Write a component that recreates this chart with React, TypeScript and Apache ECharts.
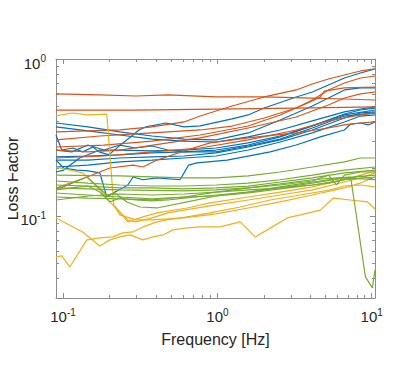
import React, { useEffect, useRef } from 'react';
import * as echarts from 'echarts';

type Pt = [number, number];

const BLUE = '#0072BD';
const ORANGE = '#D95319';
const YELLOW = '#EDB120';
const GREEN = '#77AC30';

// ---- tick values ----
const xMajor = [0.1, 1, 10];
const xMinor = [0.2, 0.3, 0.4, 0.5, 0.6, 0.7, 0.8, 0.9, 2, 3, 4, 5, 6, 7, 8, 9];
const yMajor = [0.1, 1];
const yMinor = [0.04, 0.05, 0.06, 0.07, 0.08, 0.09, 0.2, 0.3, 0.4, 0.5, 0.6, 0.7, 0.8, 0.9];

// ---- orange series ----
const orange1: Pt[] = [[0.09,0.599],[0.173,0.59],[0.296,0.581],[0.478,0.59],[0.981,0.573],[2.011,0.573],[4.12,0.564],[6.65,0.556],[10.5,0.548]];
const orange2: Pt[] = [[0.09,0.473],[0.296,0.473],[0.981,0.48],[3.24,0.487],[10.5,0.495]];
const orange3: Pt[] = [[0.09,0.343],[0.145,0.348],[0.233,0.353],[0.377,0.369],[0.608,0.397],[0.772,0.433],[1.246,0.502],[2.011,0.573],[3.24,0.635],[4.12,0.693],[5.24,0.746],[6.65,0.791],[8.45,0.839],[10.5,0.864]];
const orange4: Pt[] = [[0.09,0.305],[0.173,0.323],[0.296,0.333],[0.478,0.343],[0.772,0.353],[1.246,0.374],[2.011,0.421],[3.24,0.487],[4.12,0.548],[5.24,0.635],[6.65,0.703],[8.45,0.757],[10.5,0.779]];
const orange5: Pt[] = [[0.09,0.275],[0.184,0.283],[0.377,0.3],[0.772,0.328],[1.583,0.374],[2.55,0.44],[3.24,0.487],[4.12,0.54],[4.65,0.573],[4.93,0.625],[6.65,0.654],[10.5,0.663]];
const orange6: Pt[] = [[0.09,0.263],[0.145,0.256],[0.233,0.263],[0.478,0.292],[0.772,0.314],[1.583,0.3635],[3.24,0.427],[5.24,0.509],[6.65,0.564],[8.45,0.599],[10.5,0.616]];
const orange7: Pt[] = [[0.09,0.234],[0.184,0.241],[0.377,0.256],[0.772,0.271],[1.583,0.305],[3.24,0.353],[5.24,0.403],[8.45,0.44],[10.5,0.453]];
const orange8: Pt[] = [[0.09,0.149],[0.1,0.153],[0.143,0.177],[0.201,0.202],[0.284,0.211],[0.329,0.205],[0.406,0.227],[0.636,0.263],[0.897,0.292],[1.583,0.314],[3.24,0.338],[5.24,0.3635],[6.65,0.38],[8.45,0.391],[10.5,0.397]];

// ---- blue series ----
const blue1: Pt[] = [[0.09,0.328],[0.098,0.263],[0.116,0.271],[0.134,0.256],[0.156,0.275],[0.171,0.256],[0.198,0.245],[0.244,0.292],[0.284,0.328],[0.31,0.353],[0.344,0.369],[0.464,0.391],[0.608,0.369],[0.772,0.375],[1.246,0.415],[1.583,0.44],[2.011,0.487],[3.24,0.573],[4.12,0.616],[5.24,0.683],[6.65,0.757],[8.45,0.814],[10.5,0.864]];
const blue2: Pt[] = [[0.09,0.391],[0.145,0.369],[0.233,0.343],[0.377,0.323],[0.608,0.309],[0.981,0.305],[1.583,0.338],[2.55,0.409],[4.12,0.502],[5.91,0.599],[6.65,0.635],[8.45,0.654],[10.5,0.654]];
const blue3: Pt[] = [[0.09,0.369],[0.145,0.348],[0.233,0.328],[0.377,0.309],[0.608,0.3],[0.981,0.296],[1.583,0.319],[2.55,0.353],[4.12,0.403],[6.65,0.46],[8.45,0.48],[10.5,0.495]];
const blue4: Pt[] = [[0.09,0.238],[0.145,0.241],[0.233,0.245],[0.377,0.252],[0.608,0.256],[0.981,0.263],[1.583,0.283],[2.55,0.319],[4.12,0.375],[6.65,0.446],[8.45,0.473],[10.5,0.487]];
const blue5: Pt[] = [[0.09,0.227],[0.145,0.227],[0.233,0.234],[0.377,0.238],[0.608,0.241],[0.981,0.252],[1.583,0.275],[2.55,0.305],[4.12,0.353],[6.65,0.421],[8.45,0.453],[10.5,0.46]];
const blue6: Pt[] = [[0.09,0.205],[0.145,0.211],[0.233,0.221],[0.377,0.227],[0.608,0.234],[0.981,0.241],[1.583,0.263],[2.55,0.296],[4.12,0.338],[6.65,0.397],[8.45,0.433],[10.5,0.44]];
const blue7: Pt[] = [[0.09,0.227],[0.101,0.202],[0.123,0.196],[0.145,0.1935],[0.173,0.188],[0.192,0.132],[0.217,0.142],[0.263,0.1575],[0.284,0.177],[0.329,0.17],[0.406,0.1746],[0.573,0.17],[0.608,0.188],[0.651,0.211],[0.738,0.218],[1.156,0.227],[2.198,0.256],[3.24,0.283],[4.65,0.319],[6.65,0.353],[7.3,0.385],[8.45,0.391],[9.5,0.38],[10.5,0.397]];
const blue8: Pt[] = [[0.09,0.1906],[0.101,0.196],[0.128,0.234],[0.173,0.263],[0.233,0.263],[0.377,0.26],[0.608,0.263],[0.981,0.271],[1.583,0.292],[2.55,0.323],[4.12,0.375],[6.65,0.44],[10.5,0.473]];
const blue9: Pt[] = [[0.09,0.263],[0.114,0.256],[0.145,0.283],[0.184,0.263],[0.233,0.283],[0.296,0.271],[0.377,0.279],[0.478,0.263],[0.608,0.256],[0.981,0.256],[1.583,0.279],[2.55,0.309],[4.12,0.3635],[6.65,0.433],[10.5,0.453]];

// ---- green series ----
const green1: Pt[] = [[0.09,0.182],[0.233,0.1798],[0.608,0.1746],[0.981,0.1746],[1.583,0.1798],[2.55,0.1906],[4.12,0.205],[6.65,0.221],[8.45,0.234],[10.5,0.234]];
const green2: Pt[] = [[0.09,0.167],[0.145,0.162],[0.233,0.1575],[0.377,0.1552],[0.608,0.1552],[0.981,0.1575],[1.583,0.162],[2.55,0.17],[4.12,0.182],[6.65,0.196],[10.5,0.205]];
const green3: Pt[] = [[0.09,0.1575],[0.145,0.155],[0.233,0.1508],[0.377,0.1508],[0.608,0.1486],[0.981,0.1508],[1.583,0.155],[2.55,0.1646],[4.12,0.1746],[6.65,0.188],[10.5,0.196]];
const green4: Pt[] = [[0.09,0.1508],[0.233,0.1465],[0.608,0.1443],[0.981,0.1465],[1.583,0.1508],[2.55,0.1575],[4.12,0.167],[5.24,0.182],[5.91,0.1575],[6.65,0.182],[8.45,0.1906],[10.5,0.1906]];
const green5: Pt[] = [[0.09,0.1465],[0.114,0.1508],[0.145,0.1552],[0.173,0.142],[0.201,0.1228],[0.233,0.13],[0.296,0.1264],[0.377,0.1246],[0.478,0.1264],[0.608,0.13],[0.981,0.136],[1.583,0.142],[2.55,0.153],[4.12,0.1646],[6.65,0.1746],[10.5,0.182]];
const green6: Pt[] = [[0.09,0.14],[0.145,0.136],[0.233,0.132],[0.377,0.1283],[0.608,0.132],[0.981,0.134],[1.583,0.14],[2.55,0.1486],[4.12,0.1575],[6.65,0.17],[10.5,0.177]];
const green7: Pt[] = [[0.09,0.1508],[0.143,0.177],[0.192,0.136],[0.217,0.14],[0.259,0.1228],[0.315,0.114],[0.406,0.1124],[0.636,0.1228],[0.981,0.134],[1.583,0.142],[2.55,0.1508],[4.12,0.162],[6.65,0.1746],[10.5,0.17]];
const green8: Pt[] = [[0.09,0.132],[0.145,0.13],[0.233,0.1283],[0.377,0.1264],[0.608,0.132],[0.981,0.142],[1.583,0.1508],[2.55,0.16],[4.12,0.17],[5.91,0.1746],[7.3,0.177],[9.1,0.0409],[10.1,0.0348],[10.5,0.0453]];
const green9: Pt[] = [[0.09,0.1264],[0.145,0.134],[0.233,0.138],[0.377,0.136],[0.608,0.138],[0.981,0.142],[1.583,0.1465],[2.55,0.1508],[4.12,0.1575],[5.24,0.162],[6.65,0.17],[8.45,0.1798],[10.5,0.17]];

// ---- yellow series ----
const yellow1: Pt[] = [[0.09,0.434],[0.114,0.453],[0.145,0.44],[0.192,0.446],[0.213,0.1175],[0.263,0.0916],[0.329,0.0986],[0.406,0.1045],[0.636,0.1124],[0.897,0.121],[1.583,0.132],[2.55,0.142],[4.12,0.153],[6.65,0.17],[8.45,0.182],[10.5,0.193]];
const yellow2: Pt[] = [[0.09,0.205],[0.1105,0.196],[0.134,0.188],[0.149,0.17],[0.173,0.1465],[0.201,0.1228],[0.233,0.106],[0.263,0.0943],[0.296,0.0916],[0.377,0.0971],[0.478,0.1045],[0.608,0.109],[0.981,0.1175],[1.583,0.1264],[2.55,0.136],[4.12,0.1465],[6.65,0.1646],[8.45,0.1746],[10.5,0.188]];
const yellow3: Pt[] = [[0.09,0.0971],[0.134,0.0791],[0.173,0.0644],[0.201,0.0704],[0.233,0.0735],[0.271,0.0757],[0.329,0.0704],[0.382,0.0735],[0.444,0.0757],[0.516,0.0815],[0.636,0.0839],[0.772,0.0851],[1.041,0.0851],[1.403,0.0916],[1.758,0.0735],[2.102,0.0815],[2.836,0.0971],[3.444,0.1015],[4.645,0.109],[5.64,0.13],[7.27,0.1264],[9.38,0.1228],[10.5,0.1108]];
const yellow4: Pt[] = [[0.09,0.0548],[0.098,0.0556],[0.1105,0.0473],[0.1426,0.0704],[0.173,0.0724],[0.21,0.0735],[0.244,0.078],[0.284,0.0791],[0.329,0.0851],[0.406,0.0916],[0.4716,0.0943],[0.636,0.0986],[0.897,0.1045],[1.403,0.114],[2.198,0.1264],[3.444,0.136],[5.39,0.1465],[6.65,0.1552],[8.45,0.1575],[10.5,0.153]];
const yellow5: Pt[] = [[0.213,0.1175],[0.233,0.1015],[0.296,0.0943],[0.377,0.0943],[0.478,0.0957],[0.608,0.0971],[0.981,0.103],[1.583,0.1124],[2.55,0.1228],[4.12,0.136],[6.65,0.1508],[8.45,0.162],[10.5,0.177]];

const GROUPS: { color: string; lines: Pt[][] }[] = [
  { color: BLUE, lines: [blue1, blue2, blue3, blue4, blue5, blue6, blue7, blue8, blue9] },
  { color: ORANGE, lines: [orange1, orange2, orange3, orange4, orange5, orange6, orange7, orange8] },
  { color: YELLOW, lines: [yellow1, yellow2, yellow3, yellow4, yellow5] },
  { color: GREEN, lines: [green1, green2, green3, green4, green5, green6, green7, green8, green9] },
];

const AX = '#8c8c8c';
const TXT = '#262626';
const FONT = 'Liberation Sans, Arial, Helvetica, sans-serif';

const X_MIN = 0.09;
const X_MAX = 10.5;
const Y_MIN = 0.03;
const Y_MAX = 1;

const supFmt = (v: number) => `{a|10}{b|${Math.round(Math.log10(v))}}`;
const rich = {
  a: { fontSize: 15, color: TXT, fontFamily: FONT },
  b: { fontSize: 10, color: TXT, fontFamily: FONT, verticalAlign: 'bottom', padding: [0, 0, 9, 0] },
};

function xAxisDef(position: 'bottom' | 'top', major: boolean) {
  return {
    type: 'log',
    logBase: 10,
    min: X_MIN,
    max: X_MAX,
    position,
    gridIndex: 0,
    axisLine: { show: major, lineStyle: { color: AX, width: 1 } },
    axisTick: {
      show: true,
      inside: true,
      length: major ? 5 : 3,
      customValues: major ? xMajor : xMinor,
      lineStyle: { color: AX, width: 1 },
    },
    axisLabel: {
      show: major && position === 'bottom',
      customValues: xMajor,
      formatter: supFmt,
      rich,
      margin: 9,
    },
    splitLine: { show: false },
    minorTick: { show: false },
    ...(major && position === 'bottom'
      ? {
          name: 'Frequency [Hz]',
          nameLocation: 'middle',
          nameGap: 33,
          nameTextStyle: { fontSize: 16, color: TXT, fontFamily: FONT },
        }
      : {}),
  };
}

function yAxisDef(position: 'left' | 'right', major: boolean) {
  return {
    type: 'log',
    logBase: 10,
    min: Y_MIN,
    max: Y_MAX,
    position,
    gridIndex: 0,
    axisLine: { show: major, lineStyle: { color: AX, width: 1 } },
    axisTick: {
      show: true,
      inside: true,
      length: major ? 5 : 3,
      customValues: major ? yMajor : yMinor,
      lineStyle: { color: AX, width: 1 },
    },
    axisLabel: {
      show: major && position === 'left',
      customValues: yMajor,
      formatter: supFmt,
      rich,
      padding: [8, 0, 0, 0],
      margin: 10,
    },
    splitLine: { show: false },
    minorTick: { show: false },
    ...(major && position === 'left'
      ? {
          name: 'Loss Factor',
          nameLocation: 'middle',
          nameGap: 36,
          nameMoveOverlap: false,
          nameTextStyle: { fontSize: 16, color: TXT, fontFamily: FONT },
        }
      : {}),
  };
}

export default function App() {
  const ref = useRef<HTMLDivElement>(null);
  useEffect(() => {
    if (!ref.current) return;
    const chart = echarts.init(ref.current, undefined, { renderer: 'svg' });
    const series: any[] = [];
    GROUPS.forEach((g) => {
      g.lines.forEach((d) => {
        series.push({
          type: 'line',
          data: d,
          xAxisIndex: 0,
          yAxisIndex: 0,
          showSymbol: false,
          symbol: 'none',
          lineStyle: { color: g.color, width: 1.2 },
          itemStyle: { color: g.color },
          silent: true,
          clip: true,
        });
      });
    });
    chart.setOption({
      animation: false,
      backgroundColor: '#ffffff',
      grid: { left: 56, right: 40, top: 59, bottom: 73, containLabel: false, outerBoundsMode: 'none' },
      xAxis: [xAxisDef('bottom', true), xAxisDef('bottom', false), xAxisDef('top', true), xAxisDef('top', false)],
      yAxis: [yAxisDef('left', true), yAxisDef('left', false), yAxisDef('right', true), yAxisDef('right', false)],
      series,
    });
    return () => chart.dispose();
  }, []);
  return <div ref={ref} style={{ width: 415, height: 371, marginLeft: -8, marginTop: -8 }} />;
}
